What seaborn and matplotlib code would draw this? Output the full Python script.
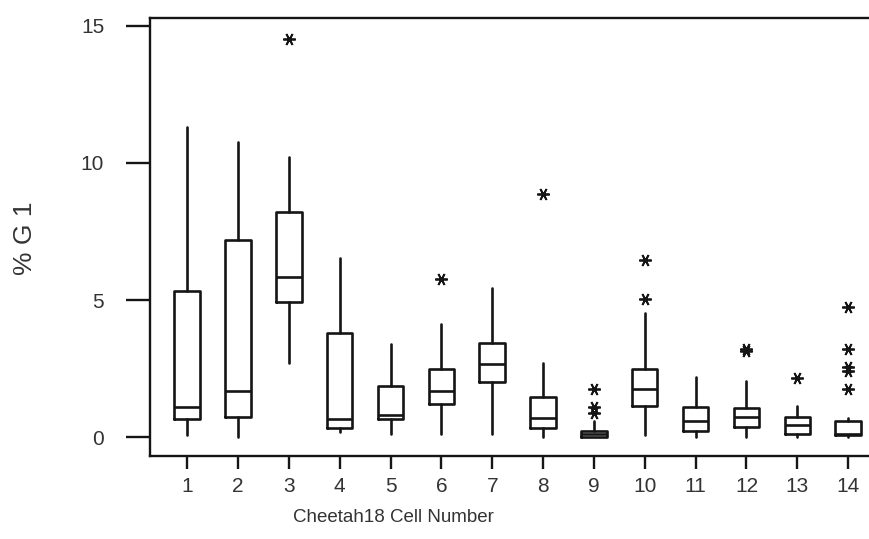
import matplotlib
matplotlib.use("Agg")
import matplotlib.pyplot as plt
import seaborn as sns

# Box statistics, one entry per cell
cells = list(range(1, 15))
whislo = [0.07, 0.00, 2.71, 0.19, 0.13, 0.13, 0.13, 0.01, 0.00, 0.07, 0.01, 0.01, 0.01, 0.01]
q1 = [0.65, 0.74, 4.93, 0.34, 0.67, 1.19, 2.02, 0.32, 0.00, 1.13, 0.23, 0.38, 0.13, 0.07]
med = [1.11, 1.69, 5.85, 0.65, 0.80, 1.69, 2.65, 0.69, 0.11, 1.75, 0.60, 0.72, 0.45, 0.13]
q3 = [5.34, 7.19, 8.21, 3.78, 1.87, 2.47, 3.42, 1.47, 0.23, 2.49, 1.11, 1.07, 0.74, 0.60]
whishi = [11.30, 10.77, 10.23, 6.52, 3.39, 4.11, 5.43, 2.69, 0.60, 4.51, 2.20, 2.05, 1.13, 0.68]
outliers = [[], [], [14.53], [], [], [5.75], [], [8.87], [1.74, 1.08, 0.88],
            [6.46, 5.03], [], [3.15, 3.20], [2.14], [4.73, 3.20, 2.57, 2.40, 1.75]]

sns.set_style("ticks")
plt.rcParams["font.family"] = ["Liberation Sans", "DejaVu Sans"]

stats = []
for i in range(len(cells)):
    stats.append({"whislo": whislo[i], "q1": q1[i], "med": med[i], "q3": q3[i],
                  "whishi": whishi[i], "fliers": outliers[i]})

fig = plt.figure(figsize=(8.69, 5.39), dpi=100)
ax = fig.add_axes([0.1726, 0.154, 0.8274, 0.8126])

ink = "#151515"
ax.bxp(stats, positions=cells, widths=0.5, showcaps=False,
       boxprops=dict(color=ink, linewidth=1.9),
       whiskerprops=dict(color=ink, linewidth=1.9),
       medianprops=dict(color=ink, linewidth=1.9),
       flierprops=dict(marker=(6, 2, 90), markersize=9, markeredgecolor=ink,
                       markerfacecolor=ink, markeredgewidth=1.3, linestyle="none"))

ax.set_xlim(0.27, 14.41)
ax.set_ylim(-0.69, 15.29)
ax.set_xticks(cells)
ax.set_xticklabels([str(c) for c in cells])
ax.set_yticks([0, 5, 10, 15])

for side in ["left", "bottom", "top"]:
    ax.spines[side].set_linewidth(1.7)
    ax.spines[side].set_color(ink)
ax.spines["right"].set_visible(False)

ax.tick_params(axis="y", length=17, width=1.7, pad=16, labelsize=15, colors=ink, labelcolor="#333333")
ax.tick_params(axis="x", length=9, width=1.7, pad=6, labelsize=15, colors=ink, labelcolor="#333333")

ax.set_ylabel("% G 1", fontsize=19, color="#333333")
ax.yaxis.set_label_coords(-0.157, 0.497)
ax.set_xlabel("Cheetah18 Cell Number", fontsize=13.5, color="#333333")
ax.xaxis.set_label_coords((5.05 - 0.27) / (14.41 - 0.27), -0.12)

fig.savefig("out.png", dpi=100)
